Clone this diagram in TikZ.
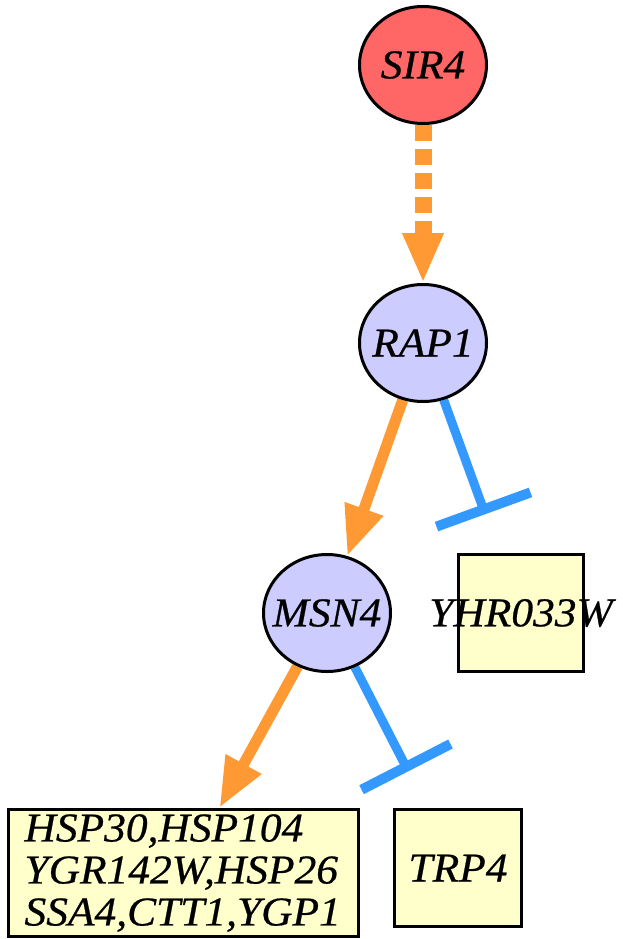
\documentclass[tikz,border=0pt]{standalone}
\usepackage{fontspec}
\setmainfont{Liberation Serif}[FakeStretch=1.06,FakeBold=0.6]
\usetikzlibrary{shapes.geometric,arrows.meta,backgrounds}
\definecolor{actorc}{HTML}{FF9933}
\definecolor{inhibc}{HTML}{3399FF}
\definecolor{redfill}{HTML}{FF6666}
\definecolor{lavfill}{HTML}{CCCCFF}
\definecolor{boxfill}{HTML}{FFFFCC}
\begin{document}
\begin{tikzpicture}[x=1pt,y=-1pt,
 genefont/.style={font=\fontsize{41pt}{42pt}\selectfont\itshape},
 gene/.style={ellipse, draw=black, line width=3pt, minimum width=127pt, minimum height=117pt, inner sep=0pt, genefont},
 target/.style={rectangle, draw=black, line width=3.5pt, inner sep=0pt, fill=boxfill, genefont},
 act/.style={draw=actorc, line width=11pt, -{Triangle[length=50pt,width=38pt]}},
 dashact/.style={act, line width=17pt, dash pattern=on 16pt off 8pt},
 inhib/.style={draw=inhibc, line width=9pt, -{Bar[width=100pt,line width=10pt]}, shorten >=41pt}]
\useasboundingbox (0,0) rectangle (623,939);
\node[gene, fill=redfill] (SIR4) at (423,65) {\makebox[0pt]{SIR4}};
\node[gene, fill=lavfill] (RAP1) at (423,343) {\makebox[0pt]{RAP1}};
\node[gene, fill=lavfill] (MSN4) at (327,613) {\makebox[0pt]{MSN4}};
\node[target, minimum width=125pt, minimum height=117pt] (YHR) at (521,613) {\makebox[0pt]{YHR033W}};
\node[target, minimum width=127pt, minimum height=117pt] (TRP4) at (458,868) {TRP4};
\node[target, minimum width=350pt, minimum height=127pt, align=left, text width=318pt] (HSP) at (183.5,873) {HSP30,HSP104\\YGR142W,HSP26\\SSA4,CTT1,YGP1};
\begin{scope}[on background layer]
\draw[dashact] (SIR4) -- (RAP1);
\draw[act] (RAP1) -- (MSN4);
\draw[act] (MSN4) -- (HSP);
\draw[inhib] (RAP1) -- (YHR);
\draw[inhib] (MSN4) -- (TRP4);
\end{scope}
\end{tikzpicture}
\end{document}
